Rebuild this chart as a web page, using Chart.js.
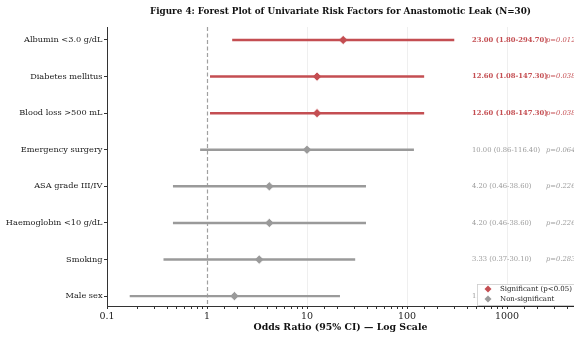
<!DOCTYPE html>
<html>
<head>
<meta charset="utf-8">
<script src="https://cdn.jsdelivr.net/npm/chart.js@4.4.1/dist/chart.umd.min.js"></script>
<style>
  html, body { margin: 0; padding: 0; background: #fff; }
  #wrap { width: 574px; height: 339px; }
</style>
</head>
<body>
<div id="wrap"><canvas id="forest"></canvas></div>
<script>
const factors = [
  'Albumin <3.0 g/dL',
  'Diabetes mellitus',
  'Blood loss >500 mL',
  'Emergency surgery',
  'ASA grade III/IV',
  'Haemoglobin <10 g/dL',
  'Smoking',
  'Male sex',
];
const oddsRatios = [23.00, 12.60, 12.60, 10.00, 4.20, 4.20, 3.33, 1.88];
const ciLow = [1.80, 1.08, 1.08, 0.86, 0.46, 0.46, 0.37, 0.17];
const ciHigh = [294.70, 147.30, 147.30, 116.40, 38.60, 38.60, 30.10, 21.20];
const pValues = [0.012, 0.038, 0.038, 0.064, 0.226, 0.226, 0.283, 0.595];
const xTickLabels = [0.1, 1, 10, 100, 1000];

const RED = '#c44e52';
const GREY = '#9a9a9a';
const SERIF = '"DejaVu Serif", serif';
const TITLE = 'Figure 4: Forest Plot of Univariate Risk Factors for Anastomotic Leak (N=30)';

const isSig = pValues.map(p => p < 0.05);
const colours = isSig.map(s => (s ? RED : GREY));

// where the OR text and p text start, in odds-ratio units
const textAtOR = 447;
const pAtOR = 2455;

const forestExtras = {
  id: 'forestExtras',
  beforeDatasetsDraw(chart) {
    const { ctx, chartArea } = chart;
    const x = chart.scales.x;
    const xr = Math.round(x.getPixelForValue(1)) + 0.5;
    ctx.save();
    ctx.strokeStyle = '#a0a0a0';
    ctx.lineWidth = 1.2;
    ctx.setLineDash([4, 2.5]);
    ctx.beginPath();
    ctx.moveTo(xr, chartArea.top);
    ctx.lineTo(xr, chartArea.bottom);
    ctx.stroke();
    ctx.restore();
  },
  afterDatasetsDraw(chart) {
    const { ctx } = chart;
    const x = chart.scales.x;
    const y = chart.scales.y;
    ctx.save();
    ctx.textBaseline = 'middle';
    ctx.textAlign = 'left';
    factors.forEach((f, i) => {
      const py = y.getPixelForValue(i);
      ctx.fillStyle = colours[i];
      ctx.font = (isSig[i] ? 'bold ' : '') + '6.8px ' + SERIF;
      const txt = oddsRatios[i].toFixed(2) + ' (' + ciLow[i].toFixed(2) + '-' + ciHigh[i].toFixed(2) + ')';
      ctx.fillText(txt, x.getPixelForValue(textAtOR), py);
      ctx.font = 'italic 6.8px ' + SERIF;
      ctx.fillText('p=' + pValues[i].toFixed(3), x.getPixelForValue(pAtOR), py);
    });
    ctx.restore();
  },
  afterDraw(chart) {
    const { ctx, chartArea } = chart;
    // title, centred over the plot area
    ctx.save();
    ctx.fillStyle = '#111';
    ctx.font = 'bold 8.8px ' + SERIF;
    ctx.textAlign = 'center';
    ctx.textBaseline = 'middle';
    ctx.fillText(TITLE, (chartArea.left + chartArea.right) / 2, 12);
    // legend, lower right inside the axes
    const bx = 477, by = 284, bw = 100, bh = 21;
    ctx.fillStyle = 'rgba(0,0,0,0.25)';
    ctx.fillRect(bx + 2, by + 2, bw, bh);
    ctx.fillStyle = '#fff';
    ctx.strokeStyle = '#cccccc';
    ctx.lineWidth = 0.8;
    ctx.fillRect(bx, by, bw, bh);
    ctx.strokeRect(bx + 0.5, by + 0.5, bw, bh);
    const items = [['Significant (p<0.05)', RED], ['Non-significant', GREY]];
    items.forEach(([label, c], k) => {
      const cy = by + 5 + k * 10;
      const cx = bx + 11;
      ctx.fillStyle = c;
      ctx.beginPath();
      ctx.moveTo(cx, cy - 3.5);
      ctx.lineTo(cx + 3.5, cy);
      ctx.lineTo(cx, cy + 3.5);
      ctx.lineTo(cx - 3.5, cy);
      ctx.closePath();
      ctx.fill();
      ctx.fillStyle = '#222';
      ctx.font = '7px ' + SERIF;
      ctx.textAlign = 'left';
      ctx.fillText(label, bx + 23, cy);
    });
    ctx.restore();
  },
};

function isDecade(v) {
  const l = Math.log10(v);
  return Math.abs(l - Math.round(l)) < 1e-6;
}

const ctx = document.getElementById('forest').getContext('2d');
new Chart(ctx, {
  data: {
    datasets: [
      {
        type: 'bar',
        indexAxis: 'y',
        data: factors.map((f, i) => ({ x: [ciLow[i], ciHigh[i]], y: i })),
        backgroundColor: colours,
        borderWidth: 0,
        barThickness: 1.8,
      },
      {
        type: 'scatter',
        data: factors.map((f, i) => ({ x: oddsRatios[i], y: i })),
        pointStyle: 'rectRot',
        pointRadius: 4.6,
        pointBackgroundColor: colours,
        pointBorderColor: '#ffffff',
        pointBorderWidth: 0.7,
      },
    ],
  },
  options: {
    responsive: true,
    maintainAspectRatio: false,
    animation: false,
    layout: { autoPadding: false, padding: { left: 0, right: 0, top: 27, bottom: 0 } },
    scales: {
      x: {
        type: 'logarithmic',
        min: 0.1,
        max: 4677,
        offset: false,
        afterFit: (s) => { s.height = 33; s.paddingLeft = 0; s.paddingRight = 0; },
        ticks: {
          autoSkip: false,
          maxRotation: 0,
          padding: 2,
          color: '#222',
          font: { family: SERIF, size: 9.5 },
          callback: (v) => (isDecade(v) && xTickLabels.some(t => Math.abs(t - v) < 1e-9) ? String(+v.toPrecision(3)) : ''),
        },
        grid: {
          offset: false,
          drawOnChartArea: true,
          tickLength: 3,
          tickColor: '#333',
          color: (c) => (c.tick && isDecade(c.tick.value) && c.tick.value > 1.5 ? '#efefef' : 'rgba(0,0,0,0)'),
        },
        border: { display: true, color: '#333', width: 1 },
        title: {
          display: true,
          text: 'Odds Ratio (95% CI) \u2014 Log Scale',
          color: '#111',
          font: { family: SERIF, size: 9.4, weight: 'bold' },
          padding: { top: 0, bottom: 6 },
        },
      },
      y: {
        type: 'linear',
        reverse: true,
        min: -0.355,
        max: 7.27,
        offset: false,
        afterFit: (s) => { s.width = 107; },
        afterBuildTicks: (s) => { s.ticks = factors.map((f, i) => ({ value: i })); },
        ticks: {
          autoSkip: false,
          padding: 1.5,
          color: '#222',
          font: { family: SERIF, size: 8.2 },
          callback: (v) => factors[v] || '',
        },
        grid: { offset: false, drawOnChartArea: false, tickLength: 3, tickColor: '#333' },
        border: { display: true, color: '#333', width: 1 },
      },
    },
    plugins: {
      legend: { display: false },
      tooltip: { enabled: false },
      title: { display: false },
    },
  },
  plugins: [forestExtras],
});
</script>
</body>
</html>
